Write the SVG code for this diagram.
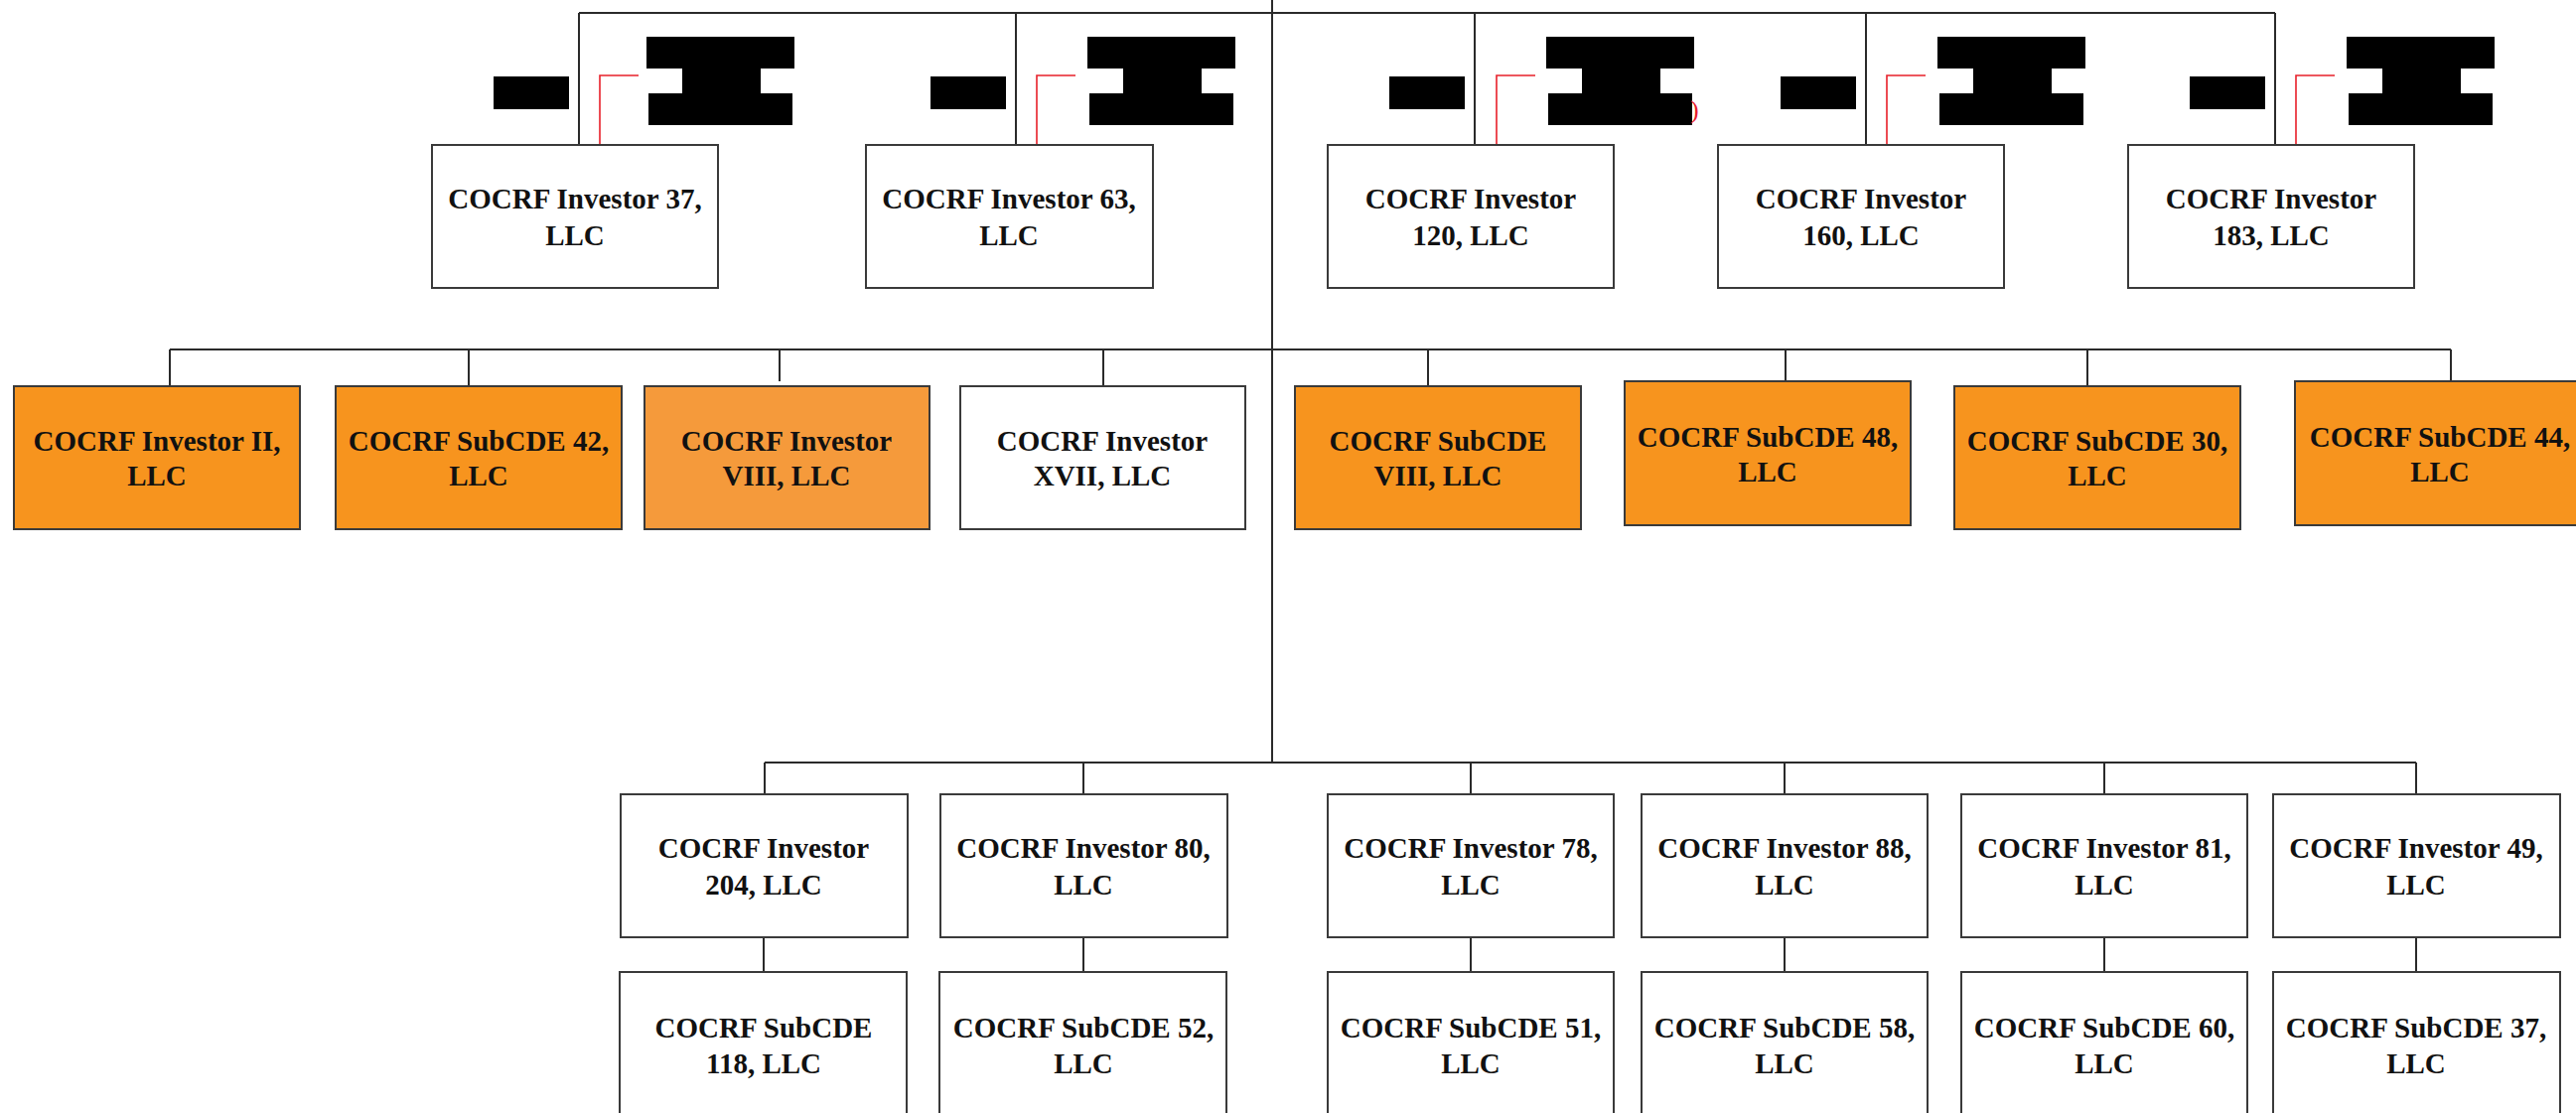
<svg xmlns="http://www.w3.org/2000/svg" width="2594" height="1121" viewBox="0 0 2594 1121">
<style>
.box{stroke:#3a3a3a;stroke-width:2}
.w{fill:#ffffff}
.o{fill:#f7941e}
.o2{fill:#f59a3b}
.t{font-family:"Liberation Serif","Times New Roman",serif;font-weight:bold;font-size:29px;fill:#111;text-anchor:middle}
.ln{stroke:#2a2a2a;stroke-width:2;fill:none}
.red{stroke:#e8202a;stroke-width:1.6;fill:none}
.blk{fill:#000}
</style>
<defs>
<path id="hshape" d="M72,37 H221 V69 H187 V94 H219 V126 H74 V94 H108 V69 H72 Z"/>
</defs>
<rect width="2594" height="1121" fill="#fff"/>
<g id="connectors">
<path class="ln" d="M1281,0 V768"/>
<path class="ln" d="M583,13 H2291"/>
<path class="ln" d="M583,13 V146 M1023,13 V146 M1485,13 V146 M1879,13 V146 M2291,13 V146"/>
<path class="ln" d="M171,352 H2468"/>
<path class="ln" d="M171,352 V389 M472,352 V389 M785,352 V384 M1111,352 V389 M1438,352 V389 M1798,352 V384 M2102,352 V389 M2468,352 V384"/>
<path class="ln" d="M770,768 H2433"/>
<path class="ln" d="M770,768 V800 M1091,768 V800 M1481,768 V800 M1797,768 V800 M2119,768 V800 M2433,768 V800"/>
<path class="ln" d="M769,944 V979 M1091,944 V979 M1481,944 V979 M1797,944 V979 M2119,944 V979 M2433,944 V979"/>
<path class="red" d="M604,146 V76 H643 M1044,146 V76 H1083 M1507,146 V76 H1546 M1900,146 V76 H1939 M2312,146 V76 H2351"/>
</g>
<g id="redactions">
<rect class="blk" x="497" y="77" width="76" height="33"/>
<use href="#hshape" x="579" y="0" class="blk"/>
<rect class="blk" x="937" y="77" width="76" height="33"/>
<use href="#hshape" x="1023" y="0" class="blk"/>
<rect class="blk" x="1399" y="77" width="76" height="33"/>
<use href="#hshape" x="1485" y="0" class="blk"/>
<rect class="blk" x="1793" y="77" width="76" height="33"/>
<use href="#hshape" x="1879" y="0" class="blk"/>
<rect class="blk" x="2205" y="77" width="76" height="33"/>
<use href="#hshape" x="2291" y="0" class="blk"/>
<text x="1702" y="119" style="font-family:'Liberation Serif',serif;font-size:26px;fill:#e8202a">)</text>
</g>
<g id="n-inv37"><rect class="box w" x="435" y="146" width="288" height="144"/><text class="t" x="579" y="210">COCRF Investor 37,</text><text class="t" x="579" y="247">LLC</text></g>
<g id="n-inv63"><rect class="box w" x="872" y="146" width="289" height="144"/><text class="t" x="1016" y="210">COCRF Investor 63,</text><text class="t" x="1016" y="247">LLC</text></g>
<g id="n-inv120"><rect class="box w" x="1337" y="146" width="288" height="144"/><text class="t" x="1481" y="210">COCRF Investor</text><text class="t" x="1481" y="247">120, LLC</text></g>
<g id="n-inv160"><rect class="box w" x="1730" y="146" width="288" height="144"/><text class="t" x="1874" y="210">COCRF Investor</text><text class="t" x="1874" y="247">160, LLC</text></g>
<g id="n-inv183"><rect class="box w" x="2143" y="146" width="288" height="144"/><text class="t" x="2287" y="210">COCRF Investor</text><text class="t" x="2287" y="247">183, LLC</text></g>
<g id="n-invII"><rect class="box o" x="14" y="389" width="288" height="144"/><text class="t" x="158" y="454">COCRF Investor II,</text><text class="t" x="158" y="489">LLC</text></g>
<g id="n-sub42"><rect class="box o" x="338" y="389" width="288" height="144"/><text class="t" x="482" y="454">COCRF SubCDE 42,</text><text class="t" x="482" y="489">LLC</text></g>
<g id="n-invVIII"><rect class="box o2" x="649" y="389" width="287" height="144"/><text class="t" x="792" y="454">COCRF Investor</text><text class="t" x="792" y="489">VIII, LLC</text></g>
<g id="n-invXVII"><rect class="box w" x="967" y="389" width="287" height="144"/><text class="t" x="1110" y="454">COCRF Investor</text><text class="t" x="1110" y="489">XVII, LLC</text></g>
<g id="n-subVIII"><rect class="box o" x="1304" y="389" width="288" height="144"/><text class="t" x="1448" y="454">COCRF SubCDE</text><text class="t" x="1448" y="489">VIII, LLC</text></g>
<g id="n-sub48"><rect class="box o" x="1636" y="384" width="288" height="145"/><text class="t" x="1780" y="450">COCRF SubCDE 48,</text><text class="t" x="1780" y="485">LLC</text></g>
<g id="n-sub30"><rect class="box o" x="1968" y="389" width="288" height="144"/><text class="t" x="2112" y="454">COCRF SubCDE 30,</text><text class="t" x="2112" y="489">LLC</text></g>
<g id="n-sub44"><rect class="box o" x="2311" y="384" width="290" height="145"/><text class="t" x="2457" y="450">COCRF SubCDE 44,</text><text class="t" x="2457" y="485">LLC</text></g>
<g id="n-inv204"><rect class="box w" x="625" y="800" width="289" height="144"/><text class="t" x="769" y="864">COCRF Investor</text><text class="t" x="769" y="901">204, LLC</text></g>
<g id="n-inv80"><rect class="box w" x="947" y="800" width="289" height="144"/><text class="t" x="1091" y="864">COCRF Investor 80,</text><text class="t" x="1091" y="901">LLC</text></g>
<g id="n-inv78"><rect class="box w" x="1337" y="800" width="288" height="144"/><text class="t" x="1481" y="864">COCRF Investor 78,</text><text class="t" x="1481" y="901">LLC</text></g>
<g id="n-inv88"><rect class="box w" x="1653" y="800" width="288" height="144"/><text class="t" x="1797" y="864">COCRF Investor 88,</text><text class="t" x="1797" y="901">LLC</text></g>
<g id="n-inv81"><rect class="box w" x="1975" y="800" width="288" height="144"/><text class="t" x="2119" y="864">COCRF Investor 81,</text><text class="t" x="2119" y="901">LLC</text></g>
<g id="n-inv49"><rect class="box w" x="2289" y="800" width="289" height="144"/><text class="t" x="2433" y="864">COCRF Investor 49,</text><text class="t" x="2433" y="901">LLC</text></g>
<g id="n-sub118"><rect class="box w" x="624" y="979" width="289" height="146"/><text class="t" x="769" y="1045">COCRF SubCDE</text><text class="t" x="769" y="1081">118, LLC</text></g>
<g id="n-sub52"><rect class="box w" x="946" y="979" width="289" height="146"/><text class="t" x="1091" y="1045">COCRF SubCDE 52,</text><text class="t" x="1091" y="1081">LLC</text></g>
<g id="n-sub51"><rect class="box w" x="1337" y="979" width="288" height="146"/><text class="t" x="1481" y="1045">COCRF SubCDE 51,</text><text class="t" x="1481" y="1081">LLC</text></g>
<g id="n-sub58"><rect class="box w" x="1653" y="979" width="288" height="146"/><text class="t" x="1797" y="1045">COCRF SubCDE 58,</text><text class="t" x="1797" y="1081">LLC</text></g>
<g id="n-sub60"><rect class="box w" x="1975" y="979" width="288" height="146"/><text class="t" x="2119" y="1045">COCRF SubCDE 60,</text><text class="t" x="2119" y="1081">LLC</text></g>
<g id="n-sub37"><rect class="box w" x="2289" y="979" width="289" height="146"/><text class="t" x="2433" y="1045">COCRF SubCDE 37,</text><text class="t" x="2433" y="1081">LLC</text></g>
</svg>
